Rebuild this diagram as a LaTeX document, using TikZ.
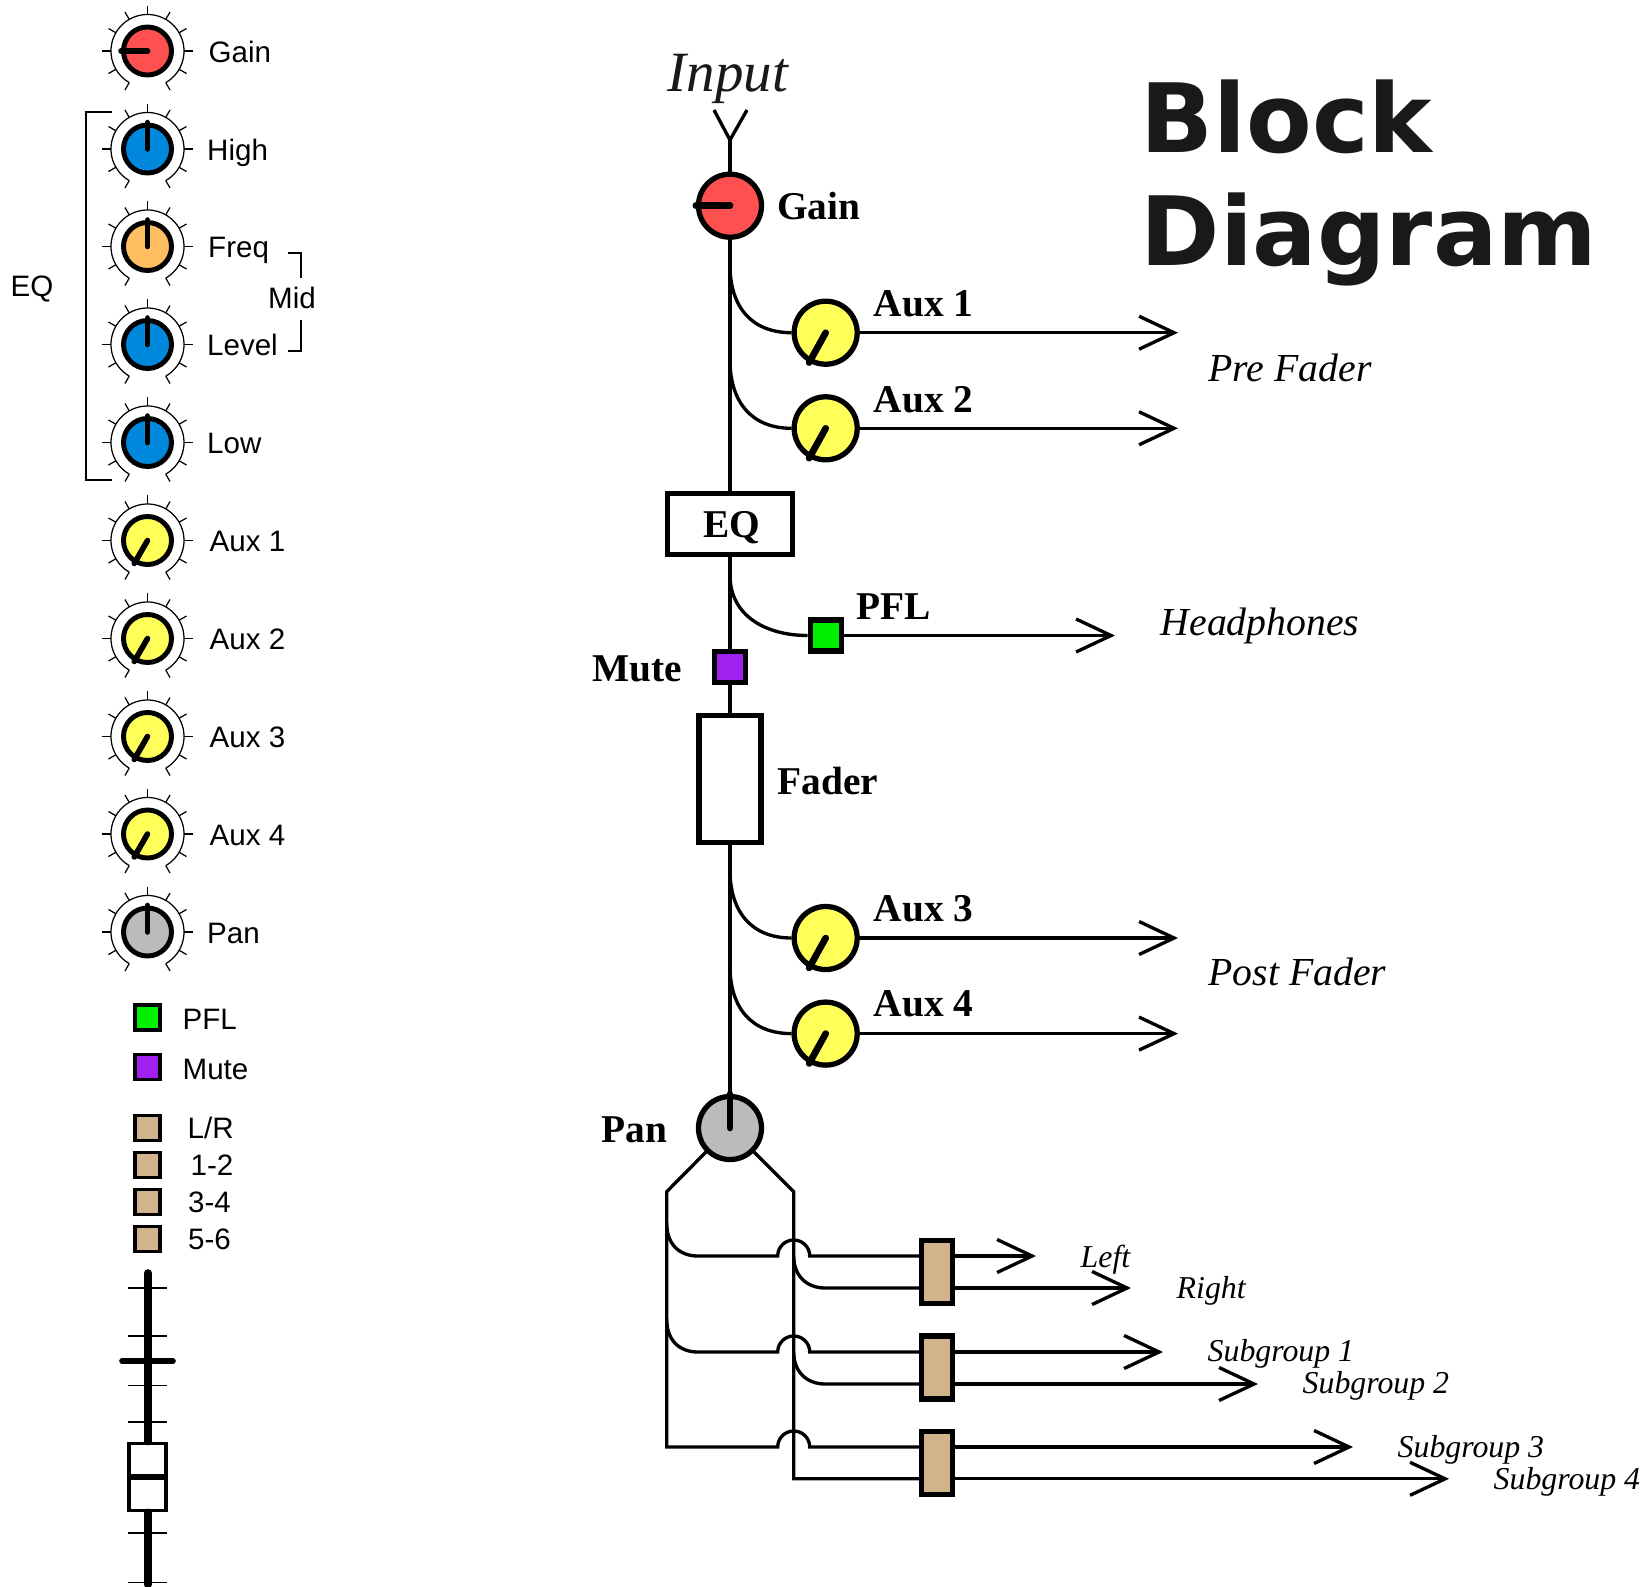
\documentclass[tikz,border=0pt]{standalone}
\usepackage{fontspec}
\setmainfont{Liberation Serif}
\setsansfont{Liberation Sans}
\newfontfamily\titlefont{DejaVu Sans}
\usetikzlibrary{arrows.meta}
\definecolor{gaincol}{HTML}{FF5050}
\definecolor{eqcol}{HTML}{0088DD}
\definecolor{freqcol}{HTML}{FFBF60}
\definecolor{auxcol}{HTML}{FFFF5A}
\definecolor{pancol}{HTML}{BBBBBB}
\definecolor{pflcol}{HTML}{00F000}
\definecolor{mutecol}{HTML}{A020F0}
\definecolor{buscol}{HTML}{D2B48C}
\tikzset{
  wire/.style={line width=0.95pt},
  sendline/.style={wire,-{Straight Barb[length=0.35cm,width=0.33cm]}},
  knob/.style={circle,draw=black,line width=1.5pt,minimum size=0.63cm},
  smallknob/.style={circle,draw=black,line width=1.4pt,minimum size=0.48cm},
  pointer/.style={line width=1.9pt,line cap=round},
  smallpointer/.style={line width=1.6pt,line cap=round},
  dial/.style={line width=0.35pt},
  sq/.style={rectangle,draw=black,line width=1.5pt,minimum size=0.31cm},
  smallsq/.style={rectangle,draw=black,line width=1.1pt,minimum size=0.25cm},
  buswitch/.style={rectangle,draw=black,line width=1.6pt,fill=buscol,minimum width=0.307cm,minimum height=0.63cm},
  panel/.style={anchor=base west,font=\sffamily\fontsize{8.4}{10}\selectfont},
  boldlab/.style={anchor=base west,font=\bfseries\fontsize{11.2}{13}\selectfont},
  itallab/.style={anchor=base west,font=\itshape\fontsize{11.3}{13}\selectfont},
  smalllab/.style={anchor=base west,font=\itshape\fontsize{9.05}{11}\selectfont},
  biglab/.style={anchor=base west,text=black!90,font=\titlefont\bfseries\fontsize{27.2}{30}\selectfont}
}
\begin{document}
\begin{tikzpicture}[x=0.01cm,y=-0.01cm,every node/.style={inner sep=0pt}]
\useasboundingbox (0,0) rectangle (1647,1587);

  % Panel: knobs
  \foreach \n/\y/\col/\ang/\lx/\txt in {kgain/51/gaincol/180/208/Gain, khigh/149/eqcol/90/206.5/High, kfreq/246.5/freqcol/90/207.5/Freq,
      klevel/344.5/eqcol/90/206.5/Level, klow/442.5/eqcol/90/206.5/Low, kaux1/540.5/auxcol/240/209/Aux 1, kaux2/638.5/auxcol/240/209/Aux 2,
      kaux3/736.5/auxcol/240/209/Aux 3, kaux4/834/auxcol/240/209/Aux 4, kpan/932/pancol/90/206.5/Pan} {
    \node[smallknob,fill=\col] (\n) at (147.5,\y) {};
    \draw[smallpointer] (\n.center) -- (\n.\ang);
    \draw[dial] (\n.center) ++(-60:0.365cm) arc[start angle=-60,end angle=240,radius=0.365cm];
    \foreach \a in {-60,-30,...,240}
      \draw[dial] ([shift={(\a:0.365cm)}]\n.center) -- ([shift={(\a:0.45cm)}]\n.center);
    \node[panel] (l\n) at (\lx,\y+11) {\txt};
  }
  % Panel: brackets
  \node[panel] (leq) at (10,296) {EQ};
  \node[panel] (lmid) at (267.5,308) {Mid};
  \draw[line width=0.6pt] (111.7,112.3) -- (86.3,112.3) -- (86.3,480) -- (111.7,480);
  \draw[line width=0.6pt] (288,252.7) -- (301,252.7) -- (301,278);
  \draw[line width=0.6pt] (301,320) -- (301,351) -- (288,351);

  % Panel: switches
  \foreach \n/\y/\col/\lx/\ly/\txt in {spfl/1017.6/pflcol/182/1029.6/PFL, smute/1067/mutecol/182/1079/Mute, slr/1128/buscol/187/1138.5/L\slash R,
      s12/1165/buscol/190/1175.5/1-2, s34/1202/buscol/187.5/1212/3-4, s56/1239/buscol/187.5/1249/5-6} {
    \node[smallsq,fill=\col] (\n) at (147.7,\y) {};
    \node[panel] (l\n) at (\lx,\ly) {\txt};
  }

  % Panel: fader
  \foreach \y in {1287.7,1336,1385.5,1422,1533,1582.6}
    \draw[line width=0.5pt] (128,\y) -- (167,\y);
  \node[rectangle,draw=black,fill=white,line width=1.1pt,minimum width=0.37cm,minimum height=0.67cm] (fbox) at (147.7,1477) {};
  \draw[line width=2.2pt,line cap=round] (147.7,1273) -- (fbox.north);
  \draw[line width=2.2pt,line cap=round] (fbox.south) -- (147.7,1584.6);
  \draw[line width=1.6pt] (fbox.west) -- (fbox.east);
  \draw[line width=1.6pt,line cap=round] (122,1361) -- (173,1361);

  % Strip: blocks
  \node[knob,fill=gaincol] (gain) at (730,205.7) {};
  \node[rectangle,draw=black,line width=1.5pt,minimum width=1.25cm,minimum height=0.61cm] (eq) at (730,523.8) {};
  \node[sq,fill=mutecol] (mute) at (730,667) {};
  \node[rectangle,draw=black,line width=1.5pt,minimum width=0.62cm,minimum height=1.27cm] (fader) at (730,778.7) {};
  \node[knob,fill=pancol] (pan) at (730,1128) {};
  \node[knob,fill=auxcol] (aux1) at (825.7,332.7) {};
  \node[knob,fill=auxcol] (aux2) at (825.7,428.3) {};
  \node[sq,fill=pflcol] (pfl) at (825.7,635.5) {};
  \node[knob,fill=auxcol] (aux3) at (825.7,938) {};
  \node[knob,fill=auxcol] (aux4) at (825.7,1033.6) {};

  % Strip: main line
  \coordinate (in) at (730,140);
  \coordinate (inl) at (714,110);
  \coordinate (inr) at (747,110);
  \draw[wire] (inl) -- (in) -- (inr);
  \draw[wire] (in) -- (gain);
  \draw[wire] (gain) -- (eq);
  \draw[wire] (eq) -- (mute);
  \draw[wire] (mute) -- (fader);
  \draw[wire] (fader) -- (pan);
  \draw[pointer] (gain.center) -- (gain.west);
  \draw[pointer] (pan.center) -- (pan.north);

  % Strip: sends
  \foreach \k/\b/\t in {aux1/265/1178, aux2/360/1178, pfl/575/1115, aux3/870/1178, aux4/966/1178} {
    \coordinate (b\k) at (730,\b);
    \coordinate (t\k) at (\t,0);
    \draw[wire] (b\k) .. controls +(0,42) and +(-40,0) .. (\k.west);
    \draw[sendline] (\k.east) -- (t\k |- \k.east);
  }
  \foreach \k in {aux1,aux2,aux3,aux4}
    \draw[pointer] (\k.center) -- (\k.241);

  % Strip: bus assign
  \node[buswitch] (bus1) at (937,1272) {};
  \node[buswitch] (bus2) at (937,1367.4) {};
  \node[buswitch] (bus3) at (937,1463) {};
  \coordinate (panl) at (666.7,1191.7);
  \coordinate (panr) at (793.7,1191.7);
  \coordinate (endl) at (666.7,1447);
  \coordinate (endr) at (793.7,1478.8);
  \draw[wire] (pan.225) -- (panl) -- (endl) -- (777.7,1447) arc[start angle=180,end angle=0,radius=0.16cm] -- (bus3.west |- endl);
  \draw[wire] (pan.315) -- (panr) -- (endr) -- (bus3.west |- endr);
  \foreach \p/\y in {bus1/1256,bus2/1352} {
    \draw[wire] (panl |- 0,\y-33) .. controls +(0,22) and +(-18,0) .. (698,\y) -- (777.7,\y)
      arc[start angle=180,end angle=0,radius=0.16cm] -- (\p.west |- 0,\y);
    \draw[wire] (panr |- 0,\y) .. controls +(0,20) and +(-18,0) .. (825,\y+32) -- (\p.west |- 0,\y+32);
  }
  \foreach \p/\y/\t in {bus1/1256/1036, bus1/1288/1131, bus2/1352/1163, bus2/1384/1258, bus3/1447/1353, bus3/1478.8/1449} {
    \coordinate (tip) at (\t,\y);
    \draw[sendline] (tip -| \p.east) -- (tip);
  }

  % Strip: labels
  \node[anchor=base west,font=\itshape\fontsize{16.2}{18}\selectfont,text=black!90] (linput) at (667,91) {Input};
  \node[boldlab] (lgain) at (776.5,219) {Gain};
  \node[boldlab] (laux1) at (873,316.7) {Aux 1};
  \node[boldlab] (laux2) at (873,412) {Aux 2};
  \node[boldlab,anchor=base] (leqb) at (732,537) {EQ};
  \node[boldlab] (lpfl) at (856,619) {PFL};
  \node[boldlab] (lmute) at (592,681) {Mute};
  \node[boldlab] (lfader) at (777,794) {Fader};
  \node[boldlab] (laux3) at (873,921) {Aux 3};
  \node[boldlab] (laux4) at (873,1016.5) {Aux 4};
  \node[boldlab] (lpan) at (601,1142) {Pan};
  \node[itallab] (lpre) at (1208,381) {Pre Fader};
  \node[itallab] (lhead) at (1160,635) {Headphones};
  \node[itallab] (lpost) at (1208,985) {Post Fader};
  \node[smalllab] (lleft) at (1080,1267) {Left};
  \node[smalllab] (lright) at (1176,1298.5) {Right};
  \node[smalllab] (lsub1) at (1207,1361) {Subgroup 1};
  \node[smalllab] (lsub2) at (1302,1393.5) {Subgroup 2};
  \node[smalllab] (lsub3) at (1397,1457) {Subgroup 3};
  \node[smalllab] (lsub4) at (1493,1489) {Subgroup 4};
  \node[biglab] (lblock) at (1140,152) {Block};
  \node[biglab] (ldiag) at (1140,265) {Diagram};
\end{tikzpicture}
\end{document}
